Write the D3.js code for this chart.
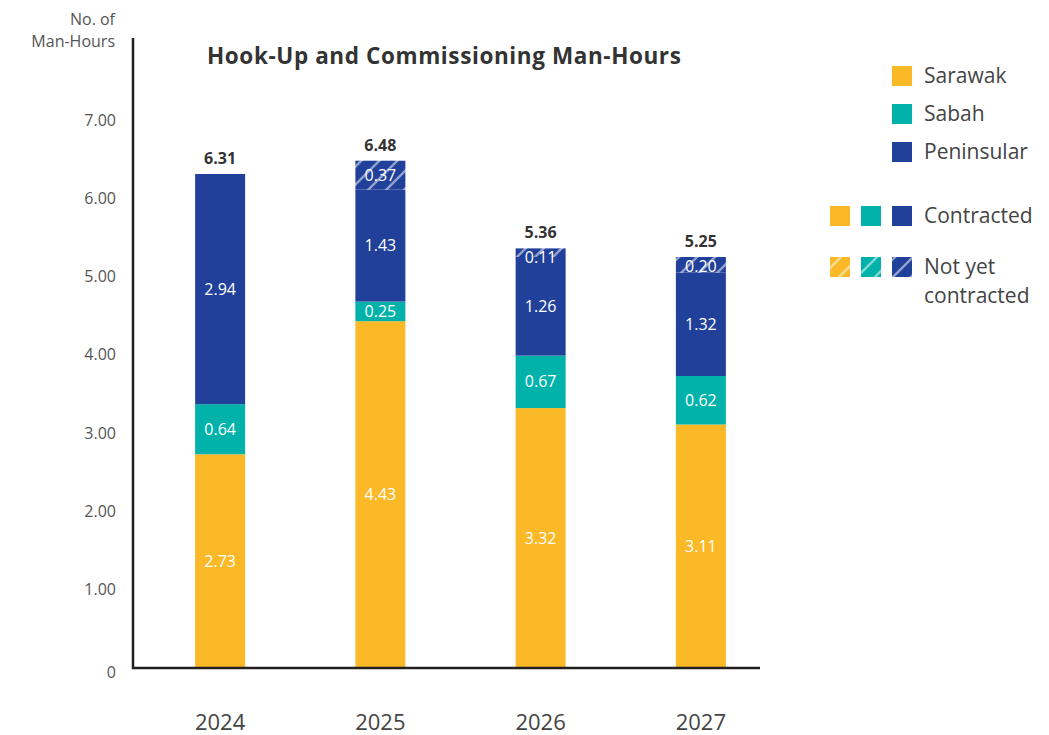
<!DOCTYPE html>
<html>
<head>
<meta charset="utf-8">
<script src="https://cdn.jsdelivr.net/npm/d3@7"></script>
<style>
  body { margin: 0; background: #fff; }
  svg { display: block; font-family: "Open Sans", "Noto Sans", sans-serif; }
</style>
</head>
<body>
<div id="chart"></div>
<script>
// data
const years = ["2024", "2025", "2026", "2027"];
const sarawak = [2.73, 4.43, 3.32, 3.11];
const sabah = [0.64, 0.25, 0.67, 0.62];
const peninsular = [2.94, 1.43, 1.26, 1.32];
const peninsularNotYet = [0, 0.37, 0.11, 0.20];
const totals = [6.31, 6.48, 5.36, 5.25];
const yTicks = [0, 1, 2, 3, 4, 5, 6, 7];

const width = 1049, height = 735;
const colors = { sarawak: "#fbb827", sabah: "#00b2a9", peninsular: "#21409a", peninsularNotYet: "#21409a" };
const keys = ["sarawak", "sabah", "peninsular", "peninsularNotYet"];

const rows = years.map((y, i) => ({
  year: y,
  sarawak: sarawak[i],
  sabah: sabah[i],
  peninsular: peninsular[i],
  peninsularNotYet: peninsularNotYet[i],
  total: totals[i]
}));

const x = d3.scalePoint().domain(years).range([140, 781]).padding(0.5);
const y = d3.scaleLinear().domain([0, 7]).range([668, 120]);
const barW = 50;

const svg = d3.select("#chart").append("svg")
  .attr("width", width)
  .attr("height", height);

// hatch patterns for "not yet contracted"
const defs = svg.append("defs");
Object.entries({ hY: colors.sarawak, hG: colors.sabah, hB: colors.peninsular }).forEach(([id, c]) => {
  const p = defs.append("pattern")
    .attr("id", id)
    .attr("patternUnits", "userSpaceOnUse")
    .attr("width", 18)
    .attr("height", 18);
  p.append("rect").attr("width", 18).attr("height", 18).attr("fill", c);
  p.append("path")
    .attr("d", "M-4,4 L4,-4 M0,18 L18,0 M14,22 L22,14")
    .attr("stroke", "rgba(255,255,255,0.5)")
    .attr("stroke-width", 2.5);
});

const stack = d3.stack().keys(keys)(rows);

// bars
svg.append("g")
  .selectAll("g")
  .data(stack)
  .join("g")
  .attr("fill", d => d.key === "peninsularNotYet" ? "url(#hB)" : colors[d.key])
  .selectAll("rect")
  .data(d => d.filter(s => s[1] - s[0] > 0))
  .join("rect")
  .attr("x", d => x(d.data.year) - barW / 2)
  .attr("y", d => y(d[1]))
  .attr("width", barW)
  .attr("height", d => y(d[0]) - y(d[1]));

// segment labels (thin segments: keep the label just under the top edge)
svg.append("g")
  .selectAll("g")
  .data(stack)
  .join("g")
  .selectAll("text")
  .data(d => d.filter(s => s[1] - s[0] > 0).map(s => ({ s, key: d.key })))
  .join("text")
  .attr("x", d => x(d.s.data.year))
  .attr("y", d => Math.max((y(d.s[0]) + y(d.s[1])) / 2, y(d.s[1]) + 9))
  .attr("dy", "0.35em")
  .attr("text-anchor", "middle")
  .attr("fill", "#fff")
  .attr("font-size", 16)
  .text(d => d.s.data[d.key].toFixed(2));

// totals
svg.append("g")
  .selectAll("text")
  .data(rows)
  .join("text")
  .attr("x", d => x(d.year))
  .attr("y", d => y(d.total) - 10)
  .attr("text-anchor", "middle")
  .attr("fill", "#333")
  .attr("font-size", 16)
  .attr("font-weight", 700)
  .text(d => d.total.toFixed(2));

// axes lines
svg.append("line")
  .attr("x1", 133).attr("x2", 133)
  .attr("y1", 38).attr("y2", y(0) + 1)
  .attr("stroke", "#231f20").attr("stroke-width", 2.5);
svg.append("line")
  .attr("x1", 132).attr("x2", 760)
  .attr("y1", y(0)).attr("y2", y(0))
  .attr("stroke", "#231f20").attr("stroke-width", 2.5);

// y tick labels
svg.append("g")
  .selectAll("text")
  .data(yTicks)
  .join("text")
  .attr("x", 116)
  .attr("y", d => y(d) + (d === 0 ? 4 : 0))
  .attr("dy", "0.35em")
  .attr("text-anchor", "end")
  .attr("fill", "#555")
  .attr("font-size", 16)
  .text(d => d === 0 ? "0" : d.toFixed(2));

// y axis title
svg.append("text")
  .attr("x", 115).attr("y", 25)
  .attr("text-anchor", "end")
  .attr("fill", "#555").attr("font-size", 16)
  .selectAll("tspan")
  .data(["No. of", "Man-Hours"])
  .join("tspan")
  .attr("x", 115)
  .attr("dy", (d, i) => i === 0 ? 0 : 22)
  .text(d => d);

// x labels
svg.append("g")
  .selectAll("text")
  .data(years)
  .join("text")
  .attr("x", d => x(d))
  .attr("y", 730)
  .attr("text-anchor", "middle")
  .attr("fill", "#444")
  .attr("font-size", 22)
  .text(d => d);

// chart title
svg.append("text")
  .attr("x", 207).attr("y", 64)
  .attr("fill", "#333")
  .attr("font-size", 22.5)
  .attr("font-weight", 700)
  .attr("letter-spacing", 0.6)
  .text("Hook-Up and Commissioning Man-Hours");

// legend
const legend = svg.append("g");
const regionItems = [["Sarawak", colors.sarawak], ["Sabah", colors.sabah], ["Peninsular", colors.peninsular]];
regionItems.forEach(([label, c], i) => {
  const cy = 76 + i * 38;
  legend.append("rect").attr("x", 892).attr("y", cy - 10).attr("width", 20).attr("height", 20).attr("fill", c);
  legend.append("text").attr("x", 924).attr("y", cy).attr("dy", "0.35em")
    .attr("fill", "#444").attr("font-size", 21).text(label);
});
const sqX = [830, 861, 892];
const solid = [colors.sarawak, colors.sabah, colors.peninsular];
const hatched = ["url(#hY)", "url(#hG)", "url(#hB)"];
sqX.forEach((sx, i) => {
  legend.append("rect").attr("x", sx).attr("y", 206).attr("width", 20).attr("height", 20).attr("fill", solid[i]);
  legend.append("rect").attr("x", sx).attr("y", 257).attr("width", 20).attr("height", 20).attr("fill", hatched[i]);
});
legend.append("text").attr("x", 924).attr("y", 216).attr("dy", "0.35em")
  .attr("fill", "#444").attr("font-size", 21).text("Contracted");
legend.append("text").attr("x", 924).attr("y", 267).attr("dy", "0.35em")
  .attr("fill", "#444").attr("font-size", 21).text("Not yet");
legend.append("text").attr("x", 924).attr("y", 296).attr("dy", "0.35em")
  .attr("fill", "#444").attr("font-size", 21).text("contracted");
</script>
</body>
</html>
